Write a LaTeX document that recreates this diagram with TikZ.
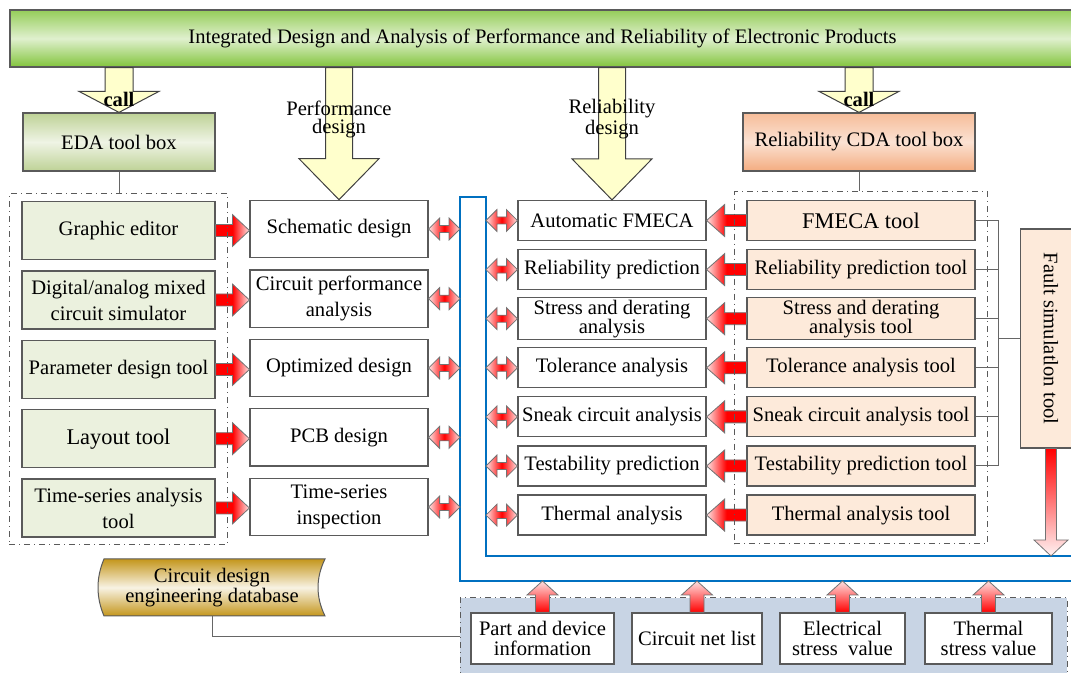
\documentclass[tikz,border=0pt]{standalone}
\usepackage{fontspec}
\setmainfont{Liberation Serif}
\usetikzlibrary{arrows.meta,calc,positioning,fit}
\definecolor{bargreen}{RGB}{130,196,60}
\definecolor{edagreen}{RGB}{190,210,150}
\definecolor{toolgreen}{RGB}{235,241,222}
\definecolor{cdaorange}{RGB}{244,172,128}
\definecolor{toolpeach}{RGB}{253,234,218}
\definecolor{dbgold}{RGB}{196,150,28}
\definecolor{callyellow}{RGB}{255,255,204}
\definecolor{busblue}{RGB}{0,112,192}
\definecolor{inputgray}{RGB}{200,212,228}
\definecolor{edgegray}{RGB}{90,90,90}
\newcommand{\wfont}{\fontsize{10.3}{13}\selectfont}
\newcommand{\tfont}{\fontsize{10.3}{9.6}\selectfont}
\newcommand{\bfont}{\fontsize{11.2}{12}\selectfont}
% block arrow: style, tail, tip, shaft half, head half, head length
\newcommand{\harrow}[6]{%
 \path[#1] let \p1=(#2), \p2=(#3), \n1={ifthenelse(\x2>\x1,1,-1)} in
  (\x1,{\y1+#4}) -- ({\x2-(\n1)*#6},{\y1+#4}) -- ({\x2-(\n1)*#6},{\y1+#5}) -- (\x2,\y1)
  -- ({\x2-(\n1)*#6},{\y1-#5}) -- ({\x2-(\n1)*#6},{\y1-#4}) -- (\x1,{\y1-#4}) -- cycle;}
\newcommand{\varrow}[6]{%
 \path[#1] let \p1=(#2), \p2=(#3), \n1={ifthenelse(\y2>\y1,1,-1)} in
  ({\x1+#4},\y1) -- ({\x1+#4},{\y2-(\n1)*#6}) -- ({\x1+#5},{\y2-(\n1)*#6}) -- (\x1,\y2)
  -- ({\x1-#5},{\y2-(\n1)*#6}) -- ({\x1-#4},{\y2-(\n1)*#6}) -- ({\x1-#4},\y1) -- cycle;}
\newcommand{\dharrow}[6]{%
 \path[#1] let \p1=(#2), \p2=(#3) in
  (\x1,\y1) -- ({\x1+#6},{\y1+#5}) -- ({\x1+#6},{\y1+#4}) -- ({\x2-#6},{\y1+#4})
  -- ({\x2-#6},{\y1+#5}) -- (\x2,\y1) -- ({\x2-#6},{\y1-#5}) -- ({\x2-#6},{\y1-#4})
  -- ({\x1+#6},{\y1-#4}) -- ({\x1+#6},{\y1-#5}) -- cycle;}

\begin{document}
\begin{tikzpicture}[x=0.5pt,y=0.5pt,>=Stealth,
 box/.style={draw=edgegray,line width=.6pt,align=center,inner sep=1pt,font=\wfont},
 edabox/.style={box,fill=toolgreen,minimum width=96.5pt,minimum height=29pt},
 perfbox/.style={box,fill=white,minimum width=89pt,minimum height=28.7pt},
 relbox/.style={box,fill=white,font=\tfont,minimum width=94pt,minimum height=20pt},
 cdabox/.style={box,fill=toolpeach,font=\tfont,minimum width=114pt,minimum height=20pt},
 inbox/.style={box,fill=white,font=\tfont,minimum height=25.5pt},
 dashframe/.style={draw=edgegray,line width=.5pt,dash dot},
 redarrow/.style={draw=black!55,line width=.4pt},
 redright/.style={redarrow,left color=red,right color=red!10,middle color=red},
 redleft/.style={redarrow,left color=red!10,right color=red,middle color=red},
 reddouble/.style={redarrow,left color=red!10,right color=red!10,middle color=red},
 redup/.style={redarrow,bottom color=red,top color=red!12},
 reddown/.style={redarrow,top color=red,bottom color=red!5},
 yellowarrow/.style={draw=black!75,line width=.5pt,fill=callyellow},
 bus/.style={busblue,line width=1pt},
 link/.style={draw=black!60,line width=.5pt}]
 \useasboundingbox (0,0) rectangle (1071,673);

 % top bar and toolboxes
 \node[box,top color=bargreen!85,bottom color=bargreen,middle color=bargreen!25,
  minimum width=532.5pt,minimum height=28.5pt] (bar) at (542.5,634.5)
  {Integrated Design and Analysis of Performance and Reliability of Electronic Products};
 \node[box,top color=edagreen,bottom color=edagreen,middle color=edagreen!25,
  minimum width=96pt,minimum height=29pt] (eda) at (119,531) {EDA tool box};
 \node[box,top color=cdaorange!80,bottom color=cdaorange,middle color=cdaorange!35,
  minimum width=116pt,minimum height=29pt] (cda) at (859,531) {Reliability CDA tool box};

 % performance column
 \node[edabox] (g1) at (118.5,442.5) {Graphic editor};
 \node[edabox] (g2) at (118.5,373) {Digital/analog mixed\\circuit simulator};
 \node[edabox] (g3) at (118.5,303.5) {Parameter design tool};
 \node[edabox,font=\bfont] (g4) at (118.5,234.3) {Layout tool};
 \node[edabox] (g5) at (118.5,165) {Time-series analysis\\tool};
 \node[perfbox] (m1) at (339,444) {Schematic design};
 \node[perfbox] (m2) at (339,374.3) {Circuit performance\\analysis};
 \node[perfbox] (m3) at (339,305) {Optimized design};
 \node[perfbox] (m4) at (339,235.7) {PCB design};
 \node[perfbox] (m5) at (339,166) {Time-series\\inspection};

 % reliability column
 \node[relbox] (r1) at (612,452.5) {Automatic FMECA};
 \node[relbox] (r2) at (612,403.4) {Reliability prediction};
 \node[relbox] (r3) at (612,354.3) {Stress and derating\\analysis};
 \node[relbox] (r4) at (612,305.2) {Tolerance analysis};
 \node[relbox] (r5) at (612,256.1) {Sneak circuit analysis};
 \node[relbox] (r6) at (612,207) {Testability prediction};
 \node[relbox] (r7) at (612,157.9) {Thermal analysis};
 \node[cdabox,font=\bfont] (t1) at (861,452.5) {FMECA tool};
 \node[cdabox] (t2) at (861,403.4) {Reliability prediction tool};
 \node[cdabox] (t3) at (861,354.3) {Stress and derating\\analysis tool};
 \node[cdabox] (t4) at (861,305.2) {Tolerance analysis tool};
 \node[cdabox] (t5) at (861,256.1) {Sneak circuit analysis tool};
 \node[cdabox] (t6) at (861,207) {Testability prediction tool};
 \node[cdabox] (t7) at (861,157.9) {Thermal analysis tool};
 \node[box,fill=toolpeach,minimum width=30.5pt,minimum height=109.5pt] (fault)
  at (1051,334.5) {\rotatebox{-90}{Fault simulatlon tool}};

 % design data bus
 \coordinate (busL) at (460,476);
 \coordinate (busR) at (486,476);
 \coordinate (busB) at (1071,92);
 \coordinate (busI) at (1071,117);
 \draw[bus] (busB) -- (busB -| busL) -- (busL) -- (busR) -- (busR |- busI) -- (busI);

 % database and inputs
 \path[draw=edgegray,line width=.5pt,top color=dbgold,bottom color=dbgold,middle color=dbgold!12]
  (104,114) -- (325,114) .. controls (315.7,95) and (315.7,76) .. (325,57)
  -- (104,57) .. controls (96,76) and (96,95) .. (104,114) -- cycle;
 \node[font=\fontsize{10.3}{10}\selectfont,align=center,minimum width=113.5pt,
  minimum height=28.5pt] (db) at (212,85.5) {Circuit design\\engineering database};
 \fill[inputgray] (460,75) rectangle (1067,-5);
 \draw[dashframe] (460,-5) |- (1067,75) -- (1067,-5);
 \coordinate (inL) at (460,36);
 \draw[link] (db.south) |- (inL);
 \node[inbox,minimum width=71.5pt] (b1) at (542.5,34.5) {Part and device\\information};
 \node[inbox,minimum width=65pt] (b2) at (697,34.5) {Circuit net list};
 \node[inbox,minimum width=62.5pt] (b3) at (842.5,34.5) {Electrical\\stress\ \ value};
 \node[inbox,minimum width=63.5pt] (b4) at (988.5,34.5) {Thermal\\stress value};

 % yellow arrows from the top bar
 \varrow{yellowarrow}{bar.south -| eda.north}{eda.north}{7pt}{20pt}{10.5pt}
 \varrow{yellowarrow}{bar.south -| m1.north}{m1.north}{6.75pt}{20pt}{20.5pt}
 \varrow{yellowarrow}{bar.south -| r1.north}{r1.north}{6.75pt}{20pt}{20.5pt}
 \varrow{yellowarrow}{bar.south -| cda.north}{cda.north}{7pt}{20pt}{10.5pt}
 \node[font=\bfseries\fontsize{10.3}{11}\selectfont] (callL) at (119,574) {call};
 \node[font=\bfseries\fontsize{10.3}{11}\selectfont] (callR) at (859,574) {call};
 \node[font=\fontsize{10.3}{9}\selectfont,align=center] (perf) at (339,554)
  {Performance\\design};
 \node[font=\fontsize{10.3}{9}\selectfont,align=center] (rel) at (612,554)
  {Reliability\\design};

 % red arrows
 \harrow{redright}{g1.east}{g1.east -| m1.west}{3pt}{8pt}{8.5pt}
 \harrow{redright}{g2.east}{g2.east -| m2.west}{3pt}{8pt}{8.5pt}
 \harrow{redright}{g3.east}{g3.east -| m3.west}{3pt}{8pt}{8.5pt}
 \harrow{redright}{g4.east}{g4.east -| m4.west}{3pt}{8pt}{8.5pt}
 \harrow{redright}{g5.east}{g5.east -| m5.west}{3pt}{8pt}{8.5pt}
 \dharrow{reddouble}{m1.east}{m1.east -| busL}{1.75pt}{5.5pt}{5.5pt}
 \dharrow{reddouble}{m2.east}{m2.east -| busL}{1.75pt}{5.5pt}{5.5pt}
 \dharrow{reddouble}{m3.east}{m3.east -| busL}{1.75pt}{5.5pt}{5.5pt}
 \dharrow{reddouble}{m4.east}{m4.east -| busL}{1.75pt}{5.5pt}{5.5pt}
 \dharrow{reddouble}{m5.east}{m5.east -| busL}{1.75pt}{5.5pt}{5.5pt}
 \dharrow{reddouble}{r1.west -| busR}{r1.west}{1.75pt}{5.5pt}{5.5pt}
 \dharrow{reddouble}{r2.west -| busR}{r2.west}{1.75pt}{5.5pt}{5.5pt}
 \dharrow{reddouble}{r3.west -| busR}{r3.west}{1.75pt}{5.5pt}{5.5pt}
 \dharrow{reddouble}{r4.west -| busR}{r4.west}{1.75pt}{5.5pt}{5.5pt}
 \dharrow{reddouble}{r5.west -| busR}{r5.west}{1.75pt}{5.5pt}{5.5pt}
 \dharrow{reddouble}{r6.west -| busR}{r6.west}{1.75pt}{5.5pt}{5.5pt}
 \dharrow{reddouble}{r7.west -| busR}{r7.west}{1.75pt}{5.5pt}{5.5pt}
 \harrow{redleft}{t1.west}{t1.west -| r1.east}{3pt}{8pt}{9pt}
 \harrow{redleft}{t2.west}{t2.west -| r2.east}{3pt}{8pt}{9pt}
 \harrow{redleft}{t3.west}{t3.west -| r3.east}{3pt}{8pt}{9pt}
 \harrow{redleft}{t4.west}{t4.west -| r4.east}{3pt}{8pt}{9pt}
 \harrow{redleft}{t5.west}{t5.west -| r5.east}{3pt}{8pt}{9pt}
 \harrow{redleft}{t6.west}{t6.west -| r6.east}{3pt}{8pt}{9pt}
 \harrow{redleft}{t7.west}{t7.west -| r7.east}{3pt}{8pt}{9pt}
 \varrow{reddown}{fault.south}{fault.south |- busI}{2.75pt}{8.5pt}{8pt}
 \varrow{redup}{b1.north}{b1.north |- busB}{3.5pt}{7.75pt}{7pt}
 \varrow{redup}{b2.north}{b2.north |- busB}{3.5pt}{7.75pt}{7pt}
 \varrow{redup}{b3.north}{b3.north |- busB}{3.5pt}{7.75pt}{7pt}
 \varrow{redup}{b4.north}{b4.north |- busB}{3.5pt}{7.75pt}{7pt}

 % tool sets and links
 \node[dashframe,fit=(g1)(g5),inner xsep=6pt,inner ysep=3.6pt] (edaset) {};
 \node[dashframe,fit=(t1)(t7),inner xsep=6pt,inner ysep=4pt] (cdaset) {};
 \draw[link] (eda.south) -- (eda.south |- edaset.north);
 \draw[link] (cda.south) -- (cda.south |- cdaset.north);
 \coordinate (jx) at (998,334.5);
 \draw[link] (t1.east) -| (jx) (t2.east) -| (jx) (t3.east) -| (jx)
  (t4.east) -| (jx) (t5.east) -| (jx) (t6.east) -| (jx) (fault.west) -- (jx);
\end{tikzpicture}
\end{document}
